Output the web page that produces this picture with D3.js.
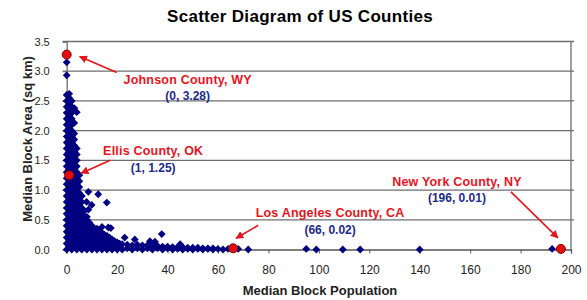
<!DOCTYPE html>
<html>
<head>
<meta charset="utf-8">
<script src="https://cdn.jsdelivr.net/npm/d3@7"></script>
<style>
  body { margin: 0; background: #fff; }
  text { font-family: Arial, "Liberation Sans", sans-serif; }
</style>
</head>
<body>
<div id="chart"></div>
<script>
// Axis ticks
var xTicks = [0, 20, 40, 60, 80, 100, 120, 140, 160, 180, 200];
var yTicks = [0, 0.5, 1.0, 1.5, 2.0, 2.5, 3.0, 3.5];

// Dense cloud of counties, one column of areas per median block population
var blobPop = [0, 1, 2, 3, 4, 5, 6, 7, 8, 9, 10, 11, 12, 13, 14, 15, 16, 17, 18, 19, 20, 21, 22, 24,
    26, 28, 30, 32, 34, 36, 38, 40, 42, 44, 46, 48, 50, 52, 54, 56, 58, 60, 62, 64];
var blobArea = [
    [0, 0.1, 0.2, 0.3, 0.4, 0.5, 0.6, 0.7, 0.8, 0.9, 1.0, 1.1, 1.2, 1.3, 1.4, 1.5, 1.6, 1.7, 1.8, 1.9, 2.0, 2.1, 2.2, 2.3, 2.4, 2.5, 2.6, 2.93, 3.15],
    [0.05, 0.15, 0.25, 0.35, 0.45, 0.55, 0.65, 0.75, 0.85, 0.95, 1.05, 1.15, 1.25, 1.35, 1.45, 1.55, 1.65, 1.75, 1.85, 1.95, 2.05, 2.15, 2.25, 2.35, 2.45, 2.55, 2.62],
    [0, 0.1, 0.2, 0.3, 0.4, 0.5, 0.6, 0.7, 0.8, 0.9, 1.0, 1.1, 1.2, 1.3, 1.4, 1.5, 1.6, 1.7, 1.8, 1.9, 2.0, 2.1, 2.2, 2.3, 2.4, 2.5],
    [0.05, 0.15, 0.25, 0.35, 0.45, 0.55, 0.65, 0.75, 0.85, 0.95, 1.05, 1.15, 1.25, 1.35, 1.45, 1.55, 1.65, 1.75, 1.85, 1.95, 2.13, 2.38],
    [0, 0.1, 0.2, 0.3, 0.4, 0.5, 0.6, 0.7, 0.8, 0.9, 1.0, 1.1, 1.2, 1.3, 1.4, 1.5, 1.6, 1.7, 2.31],
    [0.05, 0.15, 0.25, 0.35, 0.45, 0.55, 0.65, 0.75, 0.85, 0.95, 1.05, 1.15, 1.25],
    [0, 0.1, 0.2, 0.3, 0.4, 0.5, 0.6, 0.7, 0.8, 0.9],
    [0.05, 0.15, 0.25, 0.35, 0.45, 0.55, 0.65],
    [0, 0.1, 0.2, 0.3, 0.4, 0.5, 0.55],
    [0.05, 0.15, 0.25, 0.35, 0.45],
    [0, 0.1, 0.2, 0.3, 0.4],
    [0.05, 0.15, 0.25, 0.35],
    [0, 0.1, 0.2, 0.3, 0.35],
    [0.05, 0.15, 0.25, 0.3],
    [0, 0.1, 0.2, 0.28],
    [0.05, 0.15, 0.25],
    [0, 0.1, 0.2, 0.23],
    [0.05, 0.15, 0.2],
    [0, 0.1, 0.17],
    [0.05, 0.14],
    [0, 0.1, 0.12],
    [0.05, 0.1],
    [0, 0.09],
    [0.02, 0.08],
    [0, 0.07], [0.02, 0.08], [0, 0.07], [0.02, 0.07], [0, 0.06], [0.02, 0.06], [0, 0.05], [0.02, 0.05],
    [0, 0.04], [0.01, 0.04], [0, 0.04], [0.01, 0.03], [0, 0.03], [0.01, 0.03], [0, 0.02], [0.01, 0.02],
    [0, 0.02], [0.01], [0], [0.01]
];

// Scattered counties outside the cloud
var outlierPop = [7.9, 8.6, 8.6, 9.9, 12.5, 15.9, 14, 16.5, 17.5, 37.7, 23, 27, 33, 35, 45,
    68, 72, 95, 99, 109.5, 116.4, 140, 192.5];
var outlierArea = [0.8, 0.97, 0.67, 0.75, 0.93, 0.79, 0.38, 0.37, 0.36, 0.26, 0.2, 0.17, 0.14, 0.13, 0.09,
    0.01, 0, 0.01, 0, 0, 0, 0, 0.01];

// Highlighted counties
var highlightNames = ["Johnson County, WY", "Ellis County, OK", "Los Angeles County, CA", "New York County, NY"];
var highlightPop = [0, 1, 66, 196];
var highlightArea = [3.28, 1.25, 0.02, 0.01];

// Build the point list
var points = [];
blobPop.forEach(function (p, i) {
    blobArea[i].forEach(function (a) { points.push({ pop: p, area: a }); });
});
outlierPop.forEach(function (p, i) { points.push({ pop: p, area: outlierArea[i] }); });

// Annotation placement, pixel offsets from each highlighted marker
var notes = [
    { label: [121, 29], tail: [50, 18], tip: [13, 2] },
    { label: [84, -20], tail: [41, -15], tip: [12, -2] },
    { label: [97, -31], tail: [25, -23], tip: [3, -10] },
    { label: [-104, -63], tail: [-50, -57], tip: [-3, -11] }
];

var width = 587, height = 300;
var margin = { top: 41.5, right: 16, bottom: 50.5, left: 66.7 };
var plotW = width - margin.left - margin.right;
var plotH = height - margin.top - margin.bottom;

var svg = d3.select("#chart").append("svg")
    .attr("width", width)
    .attr("height", height);

svg.append("defs").append("marker")
    .attr("id", "arrow")
    .attr("viewBox", "0 0 10 10")
    .attr("refX", 9).attr("refY", 5)
    .attr("markerWidth", 5).attr("markerHeight", 5)
    .attr("orient", "auto")
    .append("path")
    .attr("d", "M0,0L10,5L0,10Z")
    .style("fill", "#e8141c");

var x = d3.scaleLinear().domain([0, 200]).range([0, plotW]);
var y = d3.scaleLinear().domain([0, 3.5]).range([plotH, 0]);

var g = svg.append("g")
    .attr("transform", "translate(" + margin.left + "," + margin.top + ")");

// Gridlines
g.selectAll(".grid")
    .data(yTicks.slice(1))
    .enter().append("line")
    .attr("class", "grid")
    .attr("x1", -4).attr("x2", plotW + 3)
    .attr("y1", function (d) { return y(d); })
    .attr("y2", function (d) { return y(d); })
    .style("stroke", "#6e6e6e")
    .style("stroke-width", 1.3);

// Right border
g.append("line")
    .attr("x1", plotW).attr("x2", plotW)
    .attr("y1", 0).attr("y2", plotH)
    .style("stroke", "#6e6e6e").style("stroke-width", 1.3);

// Y axis
var yAxis = g.append("g")
    .call(d3.axisLeft(y).tickValues(yTicks).tickSize(4).tickPadding(13).tickFormat(d3.format(".1f")));
yAxis.select(".domain").style("stroke", "#6e6e6e").style("stroke-width", 1.3);
yAxis.selectAll(".tick line").style("stroke", "#6e6e6e");
yAxis.selectAll("text").style("font-size", "11px").style("fill", "#222");

// X axis
var xAxis = g.append("g")
    .attr("transform", "translate(0," + plotH + ")")
    .call(d3.axisBottom(x).tickValues(xTicks).tickSize(4).tickPadding(12).tickFormat(d3.format("d")));
xAxis.select(".domain").style("stroke", "#555").style("stroke-width", 1.3);
xAxis.selectAll(".tick line").style("stroke", "#555");
xAxis.selectAll("text").style("font-size", "12px").style("fill", "#222");

// County points
g.selectAll(".county")
    .data(points)
    .enter().append("path")
    .attr("class", "county")
    .attr("d", "M0,-3.9L3.9,0L0,3.9L-3.9,0Z")
    .attr("transform", function (d) { return "translate(" + x(d.pop) + "," + y(d.area) + ")"; })
    .style("fill", "#000080");

// Highlighted counties
g.selectAll(".highlight")
    .data(highlightNames)
    .enter().append("circle")
    .attr("class", "highlight")
    .attr("cx", function (d, i) { return x(highlightPop[i]); })
    .attr("cy", function (d, i) { return y(highlightArea[i]); })
    .attr("r", 4.5)
    .style("fill", "#e01010")
    .style("stroke", "#8a0000")
    .style("stroke-width", 1);

// Arrows and labels
highlightNames.forEach(function (name, i) {
    var px = x(highlightPop[i]), py = y(highlightArea[i]);
    var n = notes[i];
    g.append("line")
        .attr("x1", px + n.tail[0]).attr("y1", py + n.tail[1])
        .attr("x2", px + n.tip[0]).attr("y2", py + n.tip[1])
        .style("stroke", "#e8141c")
        .style("stroke-width", 1.6)
        .attr("marker-end", "url(#arrow)");
    g.append("text")
        .attr("x", px + n.label[0]).attr("y", py + n.label[1])
        .attr("text-anchor", "middle")
        .style("font-size", "12.5px").style("font-weight", "bold")
        .style("letter-spacing", "0.2px")
        .style("fill", "#e8141c")
        .text(name);
    g.append("text")
        .attr("x", px + n.label[0]).attr("y", py + n.label[1] + 16.5)
        .attr("text-anchor", "middle")
        .style("font-size", "12px").style("font-weight", "bold")
        .style("fill", "#1c2a8c")
        .text("(" + highlightPop[i] + ", " + highlightArea[i].toFixed(2) + ")");
});

// Title and axis titles
svg.append("text")
    .attr("x", 300).attr("y", 22)
    .attr("text-anchor", "middle")
    .style("font-size", "17px").style("font-weight", "bold")
    .style("letter-spacing", "0.3px")
    .text("Scatter Diagram of US Counties");

svg.append("text")
    .attr("x", 320).attr("y", 295)
    .attr("text-anchor", "middle")
    .style("font-size", "13px").style("font-weight", "bold")
    .style("fill", "#222")
    .text("Median Block Population");

svg.append("text")
    .attr("transform", "translate(32,139) rotate(-90)")
    .attr("text-anchor", "middle")
    .style("font-size", "13px").style("font-weight", "bold")
    .style("fill", "#222")
    .text("Median Block Area (sq km)");
</script>
</body>
</html>
